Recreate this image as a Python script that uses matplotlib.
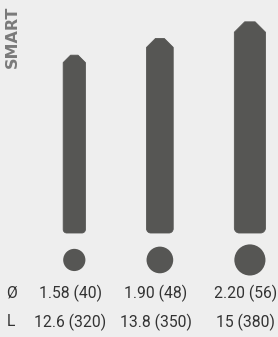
import numpy as np
import matplotlib
matplotlib.use('Agg')
import matplotlib.pyplot as plt
from matplotlib.path import Path
from matplotlib.patches import PathPatch, Circle

# data: diameter (in / mm) and length (in / mm)
dia_in = ['1.58', '1.90', '2.20']
dia_mm = [40, 48, 56]
len_in = ['12.6', '13.8', '15']
len_mm = [320, 350, 380]
row_labels = ['Ø', 'L']
title = 'SMART'

barColor = '#565654'
textColor = '#333333'
bgColor = '#eeeeee'

# 1 mm -> px scale of the drawing
scale = 0.5557
W, H = 278, 337
yBase = 233  # px of bar bottom


def ExclamationPath(xc, w, h):
    # bar with chamfered top and rounded bottom corners
    r = 0.16 * w
    c = w / 3.0
    k = 0.5523 * r
    xl, xr = xc - w / 2, xc + w / 2
    verts = [(xl, r), (xl, h - c), (xc - w / 6, h), (xc + w / 6, h),
             (xr, h - c), (xr, r),
             (xr, r - k), (xr - r + k, 0), (xr - r, 0),
             (xl + r, 0),
             (xl + r - k, 0), (xl, r - k), (xl, r),
             (xl, r)]
    codes = [Path.MOVETO, Path.LINETO, Path.LINETO, Path.LINETO,
             Path.LINETO, Path.LINETO,
             Path.CURVE4, Path.CURVE4, Path.CURVE4,
             Path.LINETO,
             Path.CURVE4, Path.CURVE4, Path.CURVE4,
             Path.CLOSEPOLY]
    return Path(verts, codes)


fig = plt.figure(figsize=(W / 100, H / 100), dpi=100)
fig.patch.set_facecolor(bgColor)
ax = fig.add_axes([0, 0, 1, 1])
ax.set_facecolor(bgColor)
ax.set_xlim(0, W / scale)
ax.set_ylim((yBase - H) / scale, yBase / scale)
ax.axis('off')

gap = 110
xStart = 113.7
centers = []
x = xStart
for d in dia_mm:
    centers.append(x + d / 2)
    x += d + gap

dotY = -48.5
for xc, d, L in zip(centers, dia_mm, len_mm):
    ax.add_patch(PathPatch(ExclamationPath(xc, d, L), facecolor=barColor,
                           edgecolor=barColor, linewidth=0.6, joinstyle='round'))
    ax.add_patch(Circle((xc, dotY), d / 2, facecolor=barColor, edgecolor='none'))

font = ['Roboto', 'DejaVu Sans']
fs = 11.3
row1Y = (yBase - 293) / scale
row2Y = (yBase - 322) / scale
ax.text(6 / scale, row1Y, row_labels[0], ha='left', va='center', fontsize=fs,
        color=textColor, family=font)
ax.text(7 / scale, row2Y, row_labels[1], ha='left', va='center', fontsize=fs,
        color=textColor, family=font)
for xc, a, b, c, d in zip(centers, dia_in, dia_mm, len_in, len_mm):
    xt = xc - 4 / scale
    ax.text(xt, row1Y, '%s (%d)' % (a, b), ha='center', va='center', fontsize=fs,
            color=textColor, family=font)
    ax.text(xt, row2Y, '%s (%d)' % (c, d), ha='center', va='center', fontsize=fs,
            color=textColor, family=font)

ax.text(12.5 / scale, (yBase - 37) / scale, title, rotation=90, ha='center', va='center',
        fontsize=11.5, fontweight='bold', color='#7a7a7a', family='DejaVu Sans')

fig.savefig('out.png', dpi=100, facecolor=bgColor)
